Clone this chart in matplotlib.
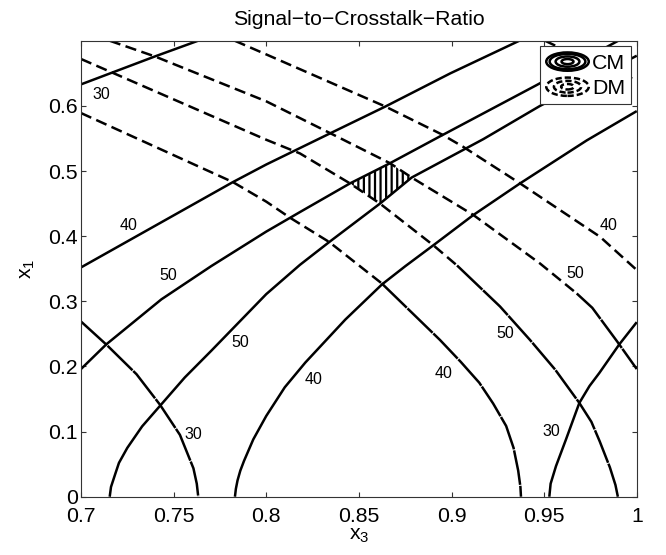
import matplotlib
matplotlib.use('Agg')
import matplotlib.pyplot as plt
from matplotlib.legend_handler import HandlerBase
from matplotlib.patches import Ellipse
from matplotlib.lines import Line2D

plt.rcParams['font.family'] = ['Liberation Sans', 'DejaVu Sans']
plt.rcParams['mathtext.fontset'] = 'custom'
plt.rcParams['mathtext.rm'] = 'Liberation Sans'
plt.rcParams['mathtext.it'] = 'Liberation Sans:italic'
plt.rcParams['hatch.linewidth'] = 1.6

# ---- CM contour lines (x3, x1) ----
cm30a_x3 = [0.700, 0.740, 0.7632]
cm30a_x1 = [0.633, 0.676, 0.700]
cm40a_x3 = [0.700, 0.782, 0.800, 0.8346, 0.8643, 0.8994, 0.9366]
cm40a_x1 = [0.352, 0.483, 0.510, 0.558, 0.599, 0.650, 0.700]
cm50a_x3 = [0.700, 0.7137, 0.7434, 0.7703, 0.800, 0.8182, 0.8452, 0.8668, 0.893, 0.946, 0.990]
cm50a_x1 = [0.196, 0.234, 0.303, 0.354, 0.407, 0.437, 0.481, 0.512, 0.552, 0.632, 0.700]
cm50b_x3 = [0.7155, 0.7162, 0.7185, 0.7205, 0.7250, 0.7330, 0.7425, 0.7560, 0.7703, 0.800,
            0.8182, 0.8340, 0.8614, 0.8785, 0.9172, 0.9478, 1.000]
cm50b_x1 = [0.000, 0.015, 0.035, 0.052, 0.075, 0.108, 0.139, 0.183, 0.224, 0.311,
            0.356, 0.391, 0.450, 0.490, 0.549, 0.600, 0.677]
cm40b_x3 = [0.7831, 0.7836, 0.7845, 0.7860, 0.7880, 0.7930, 0.800, 0.810, 0.8211, 0.8427,
            0.8625, 0.8751, 0.8902, 0.9118, 0.937, 0.973, 1.000]
cm40b_x1 = [0.000, 0.012, 0.025, 0.040, 0.055, 0.088, 0.124, 0.168, 0.206, 0.272,
            0.326, 0.354, 0.386, 0.4325, 0.481, 0.547, 0.592]
cm30b_x3 = [0.9528, 0.9535, 0.9564, 0.9618, 0.969, 0.9745, 0.9798, 0.9906, 1.000]
cm30b_x1 = [0.000, 0.020, 0.047, 0.088, 0.144, 0.170, 0.190, 0.234, 0.268]

# ---- DM contour lines (x3, x1) ----
dm30a_x3 = [0.9505, 0.9593, 1.000]
dm30a_x1 = [0.700, 0.688, 0.639]
dm40a_x3 = [0.783, 0.800, 0.8643, 0.8949, 0.9064, 0.937, 0.9802, 1.000]
dm40a_x1 = [0.700, 0.679, 0.599, 0.556, 0.537, 0.481, 0.399, 0.348]
dm50a_x3 = [0.7155, 0.7398, 0.800, 0.8346, 0.8668, 0.8785, 0.9118, 0.9478, 0.9676, 0.976, 0.9895, 1.000]
dm50a_x1 = [0.700, 0.676, 0.607, 0.558, 0.512, 0.490, 0.4325, 0.358, 0.312, 0.290, 0.238, 0.196]
dm50b_x3 = [0.700, 0.800, 0.8182, 0.8452, 0.8614, 0.8902, 0.9030, 0.9262, 0.9424, 0.956,
            0.969, 0.9755, 0.980, 0.9855, 0.9885, 0.9898]
dm50b_x1 = [0.672, 0.548, 0.527, 0.481, 0.450, 0.386, 0.355, 0.292, 0.2406, 0.195,
            0.144, 0.115, 0.085, 0.045, 0.018, 0.000]
dm40b_x3 = [0.700, 0.782, 0.800, 0.813, 0.834, 0.8623, 0.8938, 0.905, 0.915, 0.9225,
            0.9295, 0.9335, 0.9360, 0.9372, 0.9375]
dm40b_x1 = [0.589, 0.483, 0.453, 0.428, 0.391, 0.3276, 0.2406, 0.207, 0.175, 0.143,
            0.1086, 0.075, 0.040, 0.015, 0.000]
dm30b_x3 = [0.700, 0.7139, 0.7300, 0.7427, 0.7534, 0.7607, 0.7625, 0.7633]
dm30b_x1 = [0.269, 0.233, 0.188, 0.141, 0.095, 0.0436, 0.020, 0.000]

# region where both CM and DM exceed 50
both_x3 = [0.8452, 0.8668, 0.8785, 0.8614]
both_x1 = [0.481, 0.512, 0.490, 0.450]

# contour labels: (x3, x1, text)
cm_labels = [(0.7112, 0.618, '30'), (0.7256, 0.416, '40'), (0.747, 0.339, '50'),
             (0.7858, 0.237, '50'), (0.8256, 0.180, '40'), (0.9541, 0.100, '30')]
dm_labels = [(0.7605, 0.096, '30'), (0.8956, 0.189, '40'), (0.9288, 0.251, '50'),
             (0.9667, 0.343, '50'), (0.9847, 0.416, '40')]

fig = plt.figure(figsize=(6.66, 5.55), dpi=100)
ax = fig.add_axes([0.1216, 0.105, 0.8345, 0.8216])

LW = 1.8
DASH = (0, (4.5, 2.2))
LONG = (0, (14, 0.4))

cm_lines = [(cm30a_x3, cm30a_x1), (cm40a_x3, cm40a_x1), (cm50a_x3, cm50a_x1),
            (cm50b_x3, cm50b_x1), (cm40b_x3, cm40b_x1), (cm30b_x3, cm30b_x1)]
for xs, ys in cm_lines:
    ax.plot(xs, ys, color='k', lw=LW, solid_capstyle='butt', solid_joinstyle='round')

# index where the dashes merge into an almost solid stroke
dm_lines = [(dm30a_x3, dm30a_x1, None), (dm40a_x3, dm40a_x1, None),
            (dm50a_x3, dm50a_x1, 8), (dm50b_x3, dm50b_x1, 6),
            (dm40b_x3, dm40b_x1, 5), (dm30b_x3, dm30b_x1, 0)]
for xs, ys, k in dm_lines:
    if k is None:
        ax.plot(xs, ys, color='k', lw=LW, ls=DASH, dash_capstyle='butt')
        continue
    if k > 0:
        ax.plot(xs[:k + 1], ys[:k + 1], color='k', lw=LW, ls=DASH, dash_capstyle='butt')
    ax.plot(xs[k:], ys[k:], color='k', lw=LW, ls=LONG, dash_capstyle='butt',
            dash_joinstyle='round')

ax.fill(both_x3, both_x1, facecolor='none', edgecolor='k', hatch='|||', lw=0)

for x, y, s in cm_labels + dm_labels:
    ax.text(x, y, s, fontsize=11.5, ha='center', va='center')

ax.set_xlim(0.7, 1.0)
ax.set_ylim(0.0, 0.7)
ax.set_xticks([0.7, 0.75, 0.8, 0.85, 0.9, 0.95, 1.0])
ax.set_xticklabels(['0.7', '0.75', '0.8', '0.85', '0.9', '0.95', '1'])
ax.set_yticks([0, 0.1, 0.2, 0.3, 0.4, 0.5, 0.6])
ax.set_yticklabels(['0', '0.1', '0.2', '0.3', '0.4', '0.5', '0.6'])
ax.tick_params(direction='in', length=3.6, width=0.8, color='#333333',
               labelsize=15.3, top=True, right=True)
ax.tick_params(axis='x', pad=7.5)
ax.tick_params(axis='y', pad=2.5)
for sp in ax.spines.values():
    sp.set_color('#333333')
    sp.set_linewidth(0.8)

ax.set_title('Signal\u2212to\u2212Crosstalk\u2212Ratio', fontsize=15.3, pad=11)
ax.set_xlabel(r'$\mathregular{x_3}$', fontsize=15.3, labelpad=0)
ax.set_ylabel(r'$\mathregular{x_1}$', fontsize=15.3, labelpad=8)


class RingHandler(HandlerBase):
    def __init__(self, scales, ls):
        super().__init__()
        self.scales = scales
        self.ls = ls

    def create_artists(self, legend, orig_handle, xdescent, ydescent,
                       width, height, fontsize, trans):
        cx = -xdescent + 0.5 * width
        cy = -ydescent + 0.5 * height
        rings = []
        for s in self.scales:
            rings.append(Ellipse((cx, cy), width * s, height * s, fill=False,
                                 edgecolor='k', lw=1.8, ls=self.ls, transform=trans))
        return rings


h_cm = Line2D([], [], color='k')
h_dm = Line2D([], [], color='k', ls='--')
leg = ax.legend([h_cm, h_dm], ['CM', 'DM'], loc='upper right', fontsize=15.3,
                handlelength=2.0, handleheight=0.95, handletextpad=0.15,
                labelspacing=0.22, borderpad=0.3, borderaxespad=0.25,
                fancybox=False, framealpha=1,
                handler_map={h_cm: RingHandler((1.0, 0.84, 0.56, 0.28), '-'),
                             h_dm: RingHandler((1.0, 0.64, 0.3), (0, (2.5, 1.2)))})
leg.get_frame().set_edgecolor('#333333')
leg.get_frame().set_linewidth(0.8)

fig.savefig('out.png', dpi=100)
